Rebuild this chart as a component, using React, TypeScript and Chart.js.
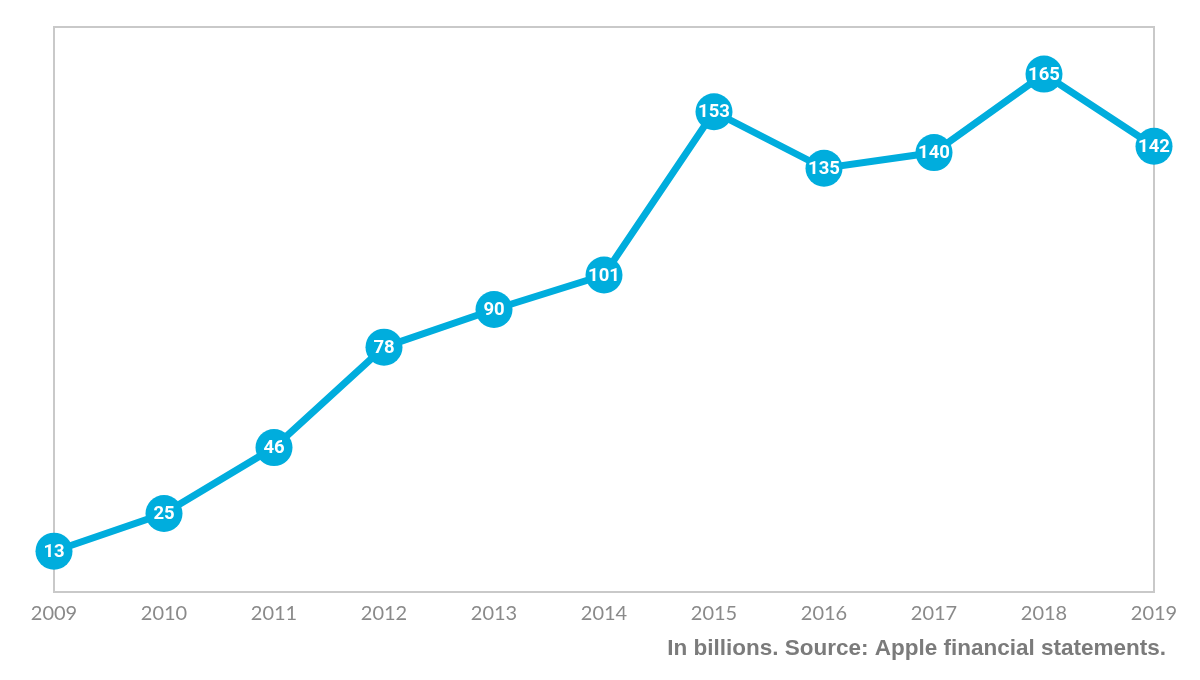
import React, { useEffect, useRef } from "react";
import { Chart, registerables } from "chart.js";

Chart.register(...registerables);

const years = ["2009", "2010", "2011", "2012", "2013", "2014", "2015", "2016", "2017", "2018", "2019"];
const revenue = [13, 25, 46, 78, 90, 101, 153, 135, 140, 165, 142];
const footerText = "In billions. Source: Apple financial statements.";

const BLUE = "#00ADDD";

const framePlugin = {
  id: "frame",
  beforeDatasetsDraw(chart: any) {
    const { ctx, chartArea } = chart;
    ctx.save();
    ctx.strokeStyle = "#c9c9c9";
    ctx.lineWidth = 2;
    ctx.strokeRect(chartArea.left, chartArea.top, chartArea.right - chartArea.left, chartArea.bottom - chartArea.top);
    ctx.restore();
  },
  afterDatasetsDraw(chart: any) {
    const { ctx } = chart;
    const meta = chart.getDatasetMeta(0);
    ctx.save();
    ctx.fillStyle = "#ffffff";
    ctx.font = "700 18.5px Roboto";
    ctx.textAlign = "center";
    ctx.textBaseline = "middle";
    meta.data.forEach((pt: any, i: number) => {
      ctx.fillText(String(revenue[i]), pt.x, pt.y + 1);
    });
    ctx.restore();
  },
  afterDraw(chart: any) {
    const { ctx } = chart;
    ctx.save();
    ctx.fillStyle = "#7b7b7b";
    ctx.font = "700 22.5px 'Liberation Sans'";
    ctx.textAlign = "right";
    ctx.textBaseline = "middle";
    ctx.fillText(footerText, 1166, 649);
    ctx.restore();
  },
};

export default function App() {
  const canvasRef = useRef<HTMLCanvasElement | null>(null);

  useEffect(() => {
    if (!canvasRef.current) return;
    const chart = new Chart(canvasRef.current, {
      type: "line",
      data: {
        labels: years,
        datasets: [
          {
            data: revenue,
            borderColor: BLUE,
            backgroundColor: BLUE,
            borderWidth: 7,
            pointRadius: 18.5,
            pointHoverRadius: 18.5,
            pointBackgroundColor: BLUE,
            pointBorderWidth: 0,
            tension: 0,
            clip: false as any,
          },
        ],
      },
      options: {
        responsive: false,
        animation: false,
        devicePixelRatio: 1,
        layout: { padding: { left: 54, right: 46, top: 27, bottom: 48 } },
        plugins: {
          legend: { display: false },
          tooltip: { enabled: false },
        },
        scales: {
          x: {
            offset: false,
            grid: { display: false, drawTicks: false },
            border: { display: false },
            ticks: {
              autoSkip: false,
              maxRotation: 0,
              padding: 10,
              color: "#8a8a8a",
              font: { family: "Lato", size: 20 },
            },
            afterFit: (scale: any) => {
              scale.height = 40;
            },
          },
          y: {
            display: false,
            min: 0,
            max: 180,
          },
        },
      },
      plugins: [framePlugin],
    });
    return () => chart.destroy();
  }, []);

  return (
    <div style={{ position: "absolute", left: 0, top: 0, width: 1200, height: 680, background: "#fff" }}>
      <canvas ref={canvasRef} width={1200} height={680} />
    </div>
  );
}
